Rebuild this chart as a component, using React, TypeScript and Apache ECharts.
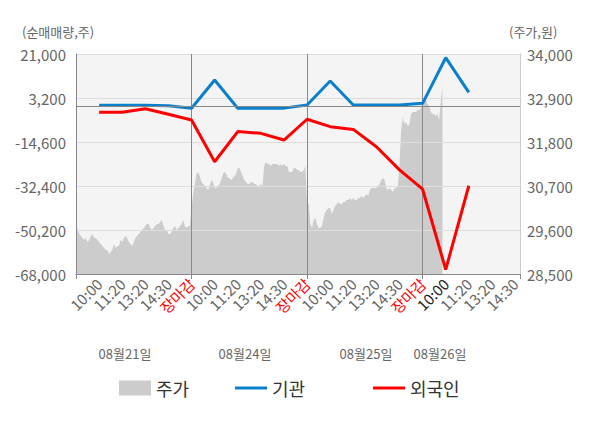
import React, { useEffect, useRef } from 'react';
import * as echarts from 'echarts';

const timeLabels = ['', '10:00', '11:20', '13:20', '14:30', '장마감', '10:00', '11:20', '13:20', '14:30', '장마감', '10:00', '11:20', '13:20', '14:30', '장마감', '10:00', '11:20', '13:20', '14:30'];
const currentDayFirstIndex = 16;
const dateLabels = ['08월21일', '08월24일', '08월25일', '08월26일'];

// 기관 net buy/sell (shares), at label indices 1..17
const instSeries = [250, 250, 250, 100, -950, 10500, -950, -950, -900, 350, 10100, 350, 350, 350, 1050, 19500, 5500];
// 외국인 net buy/sell (shares)
const foreignSeries = [-2600, -2600, -1150, -3400, -5700, -22600, -10400, -11100, -13800, -5400, -8400, -9500, -16500, -25900, -33700, -66200, -32300];

// 주가 (won), intraday points per day
const priceDay1 = [29800, 29600, 29500, 29450, 29400, 29350, 29400, 29300, 29350, 29450,
  29500, 29400, 29400, 29350, 29300, 29250, 29200, 29150, 29100, 29100,
  29000, 29050, 29100, 29250, 29150, 29200, 29200, 29350, 29300, 29400,
  29450, 29400, 29300, 29250, 29200, 29300, 29400, 29450, 29500, 29550,
  29600, 29650, 29700, 29750, 29750, 29650, 29600, 29650, 29700, 29750,
  29750, 29800, 29850, 29700, 29600, 29600, 29500, 29500, 29550, 29650,
  29700, 29600, 29650, 29700, 29750, 29850, 29700, 29650, 29700, 29700];
const priceDay2 = [30150, 30500, 30750, 31000, 31050, 30950, 30800, 30750, 30700, 30650,
  30600, 30700, 30850, 30800, 30650, 30650, 30700, 30750, 30850, 31000,
  31050, 31000, 30900, 30900, 30850, 30900, 30950, 31000, 31150, 31150,
  31050, 30950, 30850, 30800, 30750, 30750, 30800, 30800, 30750, 30750,
  30700, 30700, 30750, 30700, 31200, 31300, 31250, 31250, 31200, 31250,
  31250, 31250, 31250, 31200, 31250, 31200, 31250, 31200, 31200, 31050,
  31050, 31050, 31150, 31150, 31100, 31100, 31050, 31050, 31100, 31200];
const priceDay3 = [30250, 30250, 29750, 29650, 29850, 29900, 29750, 29650, 29650, 29700,
  29900, 30050, 30100, 30150, 30150, 30000, 30100, 30200, 30250, 30300,
  30250, 30250, 30300, 30300, 30350, 30350, 30400, 30350, 30400, 30350,
  30350, 30400, 30400, 30450, 30400, 30450, 30500, 30450, 30600, 30650,
  30650, 30650, 30650, 30700, 30750, 30850, 30900, 30850, 30650, 30600,
  30650, 30600, 30550, 30650, 30650, 30700, 31250, 32100, 32400, 32250,
  32300, 32200, 32250, 32500, 32550, 32550, 32550, 32600, 32600, 32650];
const priceDay4 = [32800, 32950, 32850, 32750, 32700, 32550, 32500, 32500, 32450, 32500, 32350, 32800, 33200];

const POINTS_PER_DAY = 70;
const LABELS_PER_DAY = 5;
const PRICE_SLOTS = 270;

export default function App() {
  const ref = useRef<HTMLDivElement>(null);
  useEffect(() => {
    const chart = echarts.init(ref.current!, null, { renderer: 'svg' });
    const font = "'Noto Sans CJK KR', 'Noto Sans', sans-serif";
    const price = [...priceDay1, ...priceDay2, ...priceDay3, ...priceDay4];
    const priceCats = Array.from({ length: PRICE_SLOTS }, (_, i) => String(i));
    const xMax = (PRICE_SLOTS - 1) / (POINTS_PER_DAY / LABELS_PER_DAY);
    const fmt = (v: number) => Number(v).toLocaleString('en-US');
    const labelColor = '#666';
    const axisFont = 15;
    const lineIcon = 'path://M0,0H32V3H0Z';
    const legendText = { fontSize: 18, color: '#333', fontFamily: font };

    chart.setOption({
      animation: false,
      textStyle: { fontFamily: font },
      grid: { left: 76, right: 80, top: 54, bottom: 154, show: true, backgroundColor: '#f4f4f4', borderWidth: 0, z: 0 },
      xAxis: [
        {
          type: 'value', min: 0, max: xMax, interval: 1, position: 'bottom', z: 2,
          axisLine: { show: true, onZero: false, lineStyle: { color: '#888' } },
          axisTick: { show: false },
          splitLine: { show: false },
          axisLabel: {
            rotate: 45, fontSize: axisFont, color: labelColor, margin: 7, fontFamily: font,
            formatter: (v: number) => {
              const s = timeLabels[v];
              if (!s) return '';
              if (s === '장마감') return '{r|' + s + '}';
              if (v === currentDayFirstIndex) return '{k|' + s + '}';
              return s;
            },
            rich: {
              r: { color: '#ff0000', fontSize: axisFont, fontFamily: font },
              k: { color: '#222', fontSize: axisFont, fontFamily: font },
            },
          },
        },
        {
          type: 'value', min: 0, max: xMax, interval: LABELS_PER_DAY, position: 'bottom', z: 2,
          axisLine: { show: false, onZero: false },
          axisTick: { show: true, length: 5, lineStyle: { color: '#888' } },
          axisLabel: { show: false },
          splitLine: { show: true, showMinLine: false, showMaxLine: false, lineStyle: { color: '#888', width: 1 } },
        },
        { type: 'category', data: priceCats, boundaryGap: false, show: false },
      ],
      yAxis: [
        {
          type: 'value', min: -68000, max: 21000, interval: 17800, position: 'left', z: 2,
          axisLine: { show: true, onZero: false, lineStyle: { color: '#888' } },
          axisTick: { show: false },
          axisLabel: { fontSize: axisFont, color: labelColor, margin: 10, formatter: fmt, fontFamily: font },
          splitLine: { show: true, lineStyle: { color: '#dddddd', width: 1 } },
        },
        {
          type: 'value', min: 28500, max: 34000, interval: 1100, position: 'right', z: 2,
          axisLine: { show: true, onZero: false, lineStyle: { color: '#cccccc' } },
          axisTick: { show: false },
          axisLabel: { fontSize: axisFont, color: labelColor, margin: 7, formatter: fmt, fontFamily: font },
          splitLine: { show: false },
        },
      ],
      legend: [
        { data: [{ name: '주가', icon: 'rect' }], left: 114, top: 374, itemWidth: 32, itemHeight: 15, textStyle: legendText },
        { data: [{ name: '기관', icon: lineIcon }], left: 230, top: 374, itemWidth: 32, itemHeight: 15, textStyle: legendText },
        { data: [{ name: '외국인', icon: lineIcon }], left: 368, top: 374, itemWidth: 32, itemHeight: 15, textStyle: legendText },
      ],
      graphic: [
        { type: 'text', left: 22, top: 25, style: { text: '(순매매량,주)', fontSize: 13, fill: '#666', fontFamily: font } },
        { type: 'text', left: 509, top: 25, style: { text: '(주가,원)', fontSize: 13, fill: '#666', fontFamily: font } },
        { type: 'text', x: 125, y: 353, style: { text: dateLabels[0], fontSize: 13, fill: '#666', fontFamily: font, align: 'center', verticalAlign: 'middle' } },
        { type: 'text', x: 245, y: 353, style: { text: dateLabels[1], fontSize: 13, fill: '#666', fontFamily: font, align: 'center', verticalAlign: 'middle' } },
        { type: 'text', x: 366, y: 353, style: { text: dateLabels[2], fontSize: 13, fill: '#666', fontFamily: font, align: 'center', verticalAlign: 'middle' } },
        { type: 'text', x: 440, y: 353, style: { text: dateLabels[3], fontSize: 13, fill: '#666', fontFamily: font, align: 'center', verticalAlign: 'middle' } },
      ],
      series: [
        {
          name: '주가', type: 'line', xAxisIndex: 2, yAxisIndex: 1, data: price, symbol: 'none', z: 1,
          lineStyle: { width: 0 }, itemStyle: { color: '#cccccc' },
          areaStyle: { color: '#cccccc', opacity: 1, origin: 'start' },
        },
        {
          name: '기관', type: 'line', xAxisIndex: 0, yAxisIndex: 0, z: 3, symbol: 'none',
          data: instSeries.map((v, i) => [i + 1, v]),
          lineStyle: { width: 3, color: '#0a80cc' }, itemStyle: { color: '#0a80cc' },
          markLine: {
            silent: true, symbol: 'none', label: { show: false },
            lineStyle: { color: '#888', width: 1, type: 'solid' },
            data: [{ yAxis: 0 }],
          },
        },
        {
          name: '외국인', type: 'line', xAxisIndex: 0, yAxisIndex: 0, z: 3, symbol: 'none',
          data: foreignSeries.map((v, i) => [i + 1, v]),
          lineStyle: { width: 3, color: '#ff0000' }, itemStyle: { color: '#ff0000' },
        },
      ],
    });
    return () => chart.dispose();
  }, []);
  return <div ref={ref} style={{ position: 'absolute', left: 0, top: 0, width: 600, height: 428 }} />;
}
